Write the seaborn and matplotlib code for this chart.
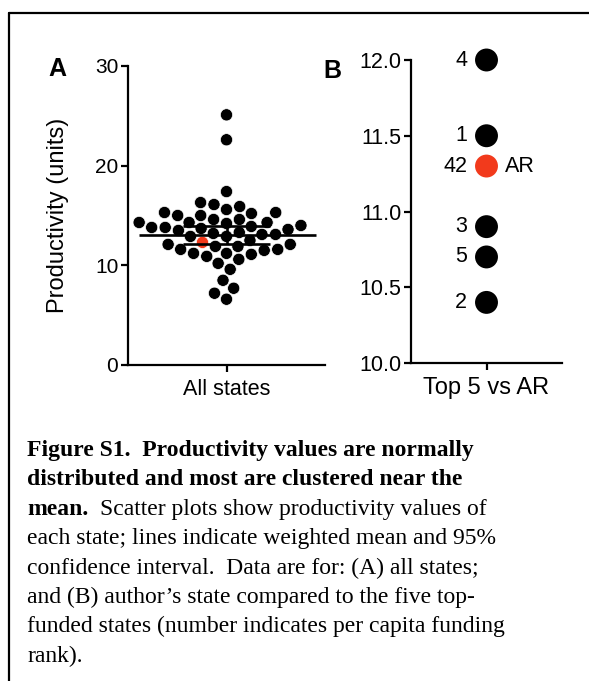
import matplotlib
matplotlib.use("Agg")
import matplotlib.pyplot as plt
import seaborn as sns
import pandas as pd
from matplotlib.lines import Line2D

# Data
all_states = [25.1, 22.6, 17.4, 16.3, 16.1, 15.9, 15.6, 15.3, 15.3, 15.2,
              15.0, 15.0, 14.6, 14.6, 14.3, 14.2, 14.3, 14.3, 14.0, 13.9,
              13.8, 13.8, 13.7, 13.6, 13.5, 13.3, 13.2, 13.1, 13.1, 12.9,
              12.9, 12.5, 12.1, 12.1, 11.9, 11.6, 11.6, 11.5, 11.9, 11.2,
              11.2, 11.1, 10.9, 10.6, 10.2, 9.6, 8.5, 7.7, 7.2, 6.6]
ar_all = 12.3
mean_value = 13.0
ci_low, ci_high = 12.1, 13.9

top_values = [12.0, 11.5, 11.3, 10.9, 10.7, 10.4]
top_ranks = ["4", "1", "42", "3", "5", "2"]
top_group = ["top", "top", "AR", "top", "top", "top"]

RED = "#f23a1c"
W, H = 589, 681

sns.set_style("ticks")
plt.rcParams["font.family"] = ["Liberation Sans", "DejaVu Sans"]
plt.rcParams.update({
    "axes.linewidth": 1.6,
    "xtick.major.width": 1.6,
    "ytick.major.width": 1.6,
    "xtick.major.size": 5,
    "ytick.major.size": 5,
    "xtick.color": "black",
    "ytick.color": "black",
    "axes.edgecolor": "black",
    "axes.labelcolor": "black",
    "text.color": "black",
})


def fx(x):
    return x / W


def fy(y):
    return 1 - y / H


fig = plt.figure(figsize=(W / 100, H / 100), dpi=100)

# Panel A
df_a = pd.DataFrame({"x": "All states", "y": all_states + [ar_all],
                     "g": ["other"] * len(all_states) + ["AR"]})
ax1 = fig.add_axes([fx(128), fy(365), (325 - 128) / W, (365 - 66) / H])
sns.swarmplot(data=df_a, x="x", y="y", hue="g",
              palette={"other": "black", "AR": RED}, size=8.8,
              edgecolor="white", linewidth=0.5, legend=False, ax=ax1)
ax1.set_xlim(-0.45, 0.45)
ax1.hlines(mean_value, -0.40, 0.41, color="black", lw=1.9, zorder=10)
ax1.hlines([ci_low, ci_high], -0.2, 0.2, color="black", lw=1.9, zorder=10)
ax1.vlines(0.0, ci_low, ci_high, color="black", lw=1.9, zorder=10)
ax1.set_ylim(0, 30)
ax1.set_yticks([0, 10, 20, 30])
ax1.set_xlabel("")
ax1.set_ylabel("Productivity (units)", fontsize=17)
ax1.yaxis.label.set_va("center")
ax1.yaxis.set_label_coords(-0.355, 0.5)
ax1.tick_params(axis="y", labelsize=15, pad=2)
ax1.tick_params(axis="x", labelsize=15.5, pad=5)
sns.despine(ax=ax1)

# Panel B
df_b = pd.DataFrame({"x": "Top 5 vs AR", "y": top_values, "g": top_group})
ax2 = fig.add_axes([fx(411), fy(363), (562 - 411) / W, (363 - 60) / H])
sns.stripplot(data=df_b, x="x", y="y", hue="g",
              palette={"top": "black", "AR": RED}, size=16.5, jitter=False,
              linewidth=0, legend=False, ax=ax2)
for coll in ax2.collections:
    coll.set_clip_on(False)
for v, r, g in zip(top_values, top_ranks, top_group):
    ax2.annotate(r, (0, v), xytext=(-14, 0), textcoords="offset points",
                 ha="right", va="center", fontsize=15.5)
    if g == "AR":
        ax2.annotate("AR", (0, v), xytext=(13, 0), textcoords="offset points",
                     ha="left", va="center", fontsize=15.5)
ax2.set_xlim(-0.5, 0.5)
ax2.set_ylim(10.0, 12.0)
ax2.set_yticks([10.0, 10.5, 11.0, 11.5, 12.0])
ax2.set_yticklabels(["10.0", "10.5", "11.0", "11.5", "12.0"])
ax2.set_xlabel("")
ax2.set_ylabel("")
ax2.tick_params(axis="y", labelsize=15.5, pad=2)
ax2.tick_params(axis="x", labelsize=17, pad=5)
sns.despine(ax=ax2)

# Panel letters
fig.text(fx(57), fy(69), "A", fontsize=18, fontweight="bold", ha="center", va="center")
fig.text(fx(332), fy(71), "B", fontsize=18, fontweight="bold", ha="center", va="center")

# Frame
fig.add_artist(Line2D([fx(8.5), fx(8.5)], [0, fy(13)], color="black", lw=1.6,
                      transform=fig.transFigure))
fig.add_artist(Line2D([fx(8.5), 1], [fy(13), fy(13)], color="black", lw=1.6,
                      transform=fig.transFigure))

# Caption
serif = ["Liberation Serif", "DejaVu Serif"]
cap_size = 17
base0, step = 456, 29.4
caption = [
    ("Figure S1.  Productivity values are normally", "bold"),
    ("distributed and most are clustered near the", "bold"),
    (None, None),
    ("each state; lines indicate weighted mean and 95%", "normal"),
    ("confidence interval.  Data are for: (A) all states;", "normal"),
    ("and (B) author\u2019s state compared to the five top-", "normal"),
    ("funded states (number indicates per capita funding", "normal"),
    ("rank).", "normal"),
]
for i, (line, weight) in enumerate(caption):
    y = fy(base0 + i * step)
    if line is None:
        t = fig.text(fx(27), y, "mean.", fontsize=cap_size, fontweight="bold",
                     family=serif, va="baseline")
        fig.canvas.draw()
        bb = t.get_window_extent()
        fig.text(bb.x1 / W + fx(12), y, "Scatter plots show productivity values of",
                 fontsize=cap_size, family=serif, va="baseline")
    else:
        fig.text(fx(27), y, line, fontsize=cap_size, fontweight=weight,
                 family=serif, va="baseline")

fig.savefig("out.png", dpi=100)
